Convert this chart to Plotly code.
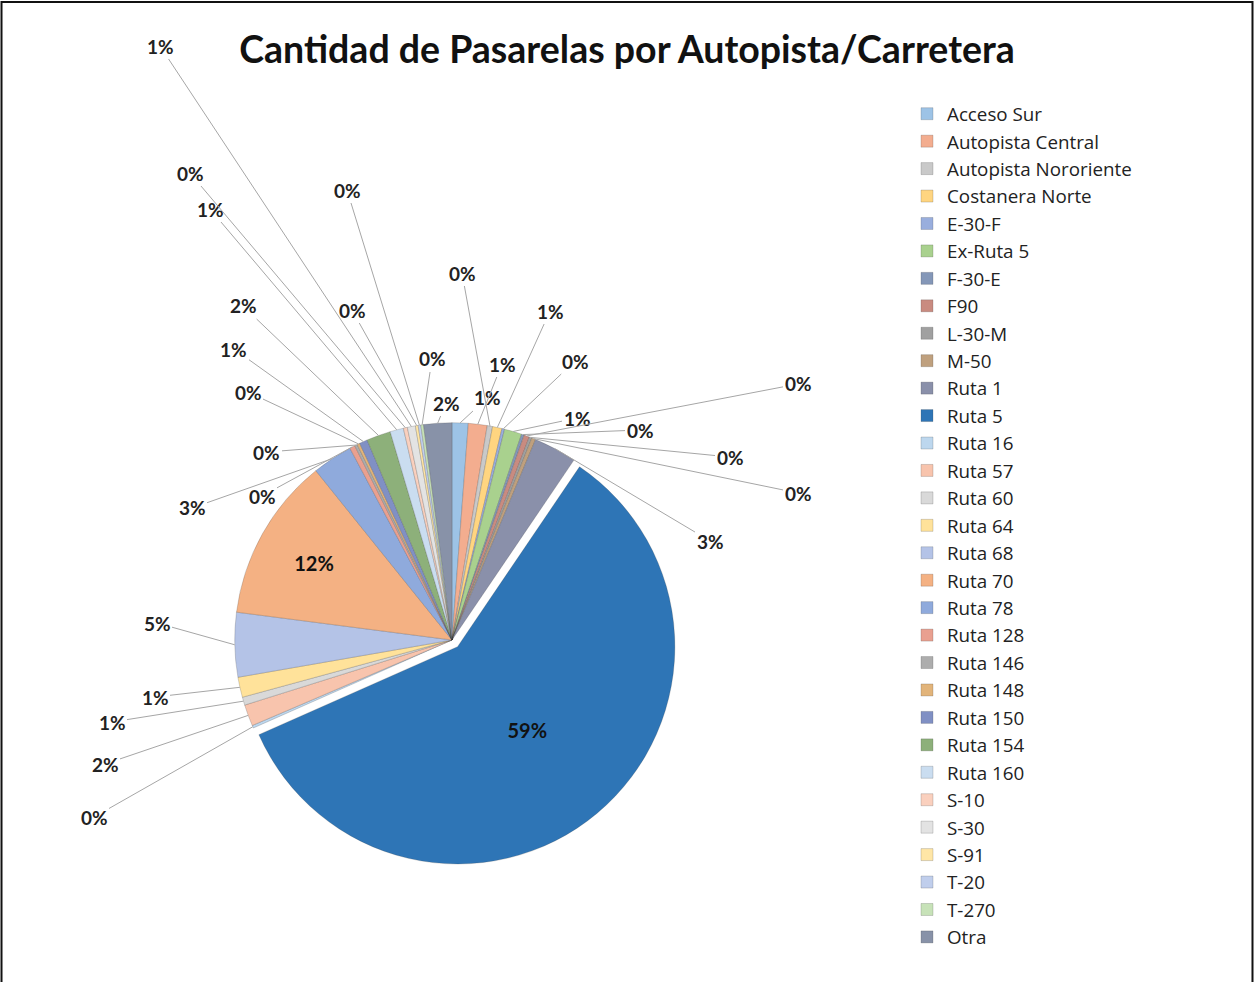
import math
import plotly.graph_objects as go

categories = ["Acceso Sur", "Autopista Central", "Autopista Nororiente", "Costanera Norte",
              "E-30-F", "Ex-Ruta 5", "F-30-E", "F90", "L-30-M", "M-50", "Ruta 1", "Ruta 5",
              "Ruta 16", "Ruta 57", "Ruta 60", "Ruta 64", "Ruta 68", "Ruta 70", "Ruta 78",
              "Ruta 128", "Ruta 146", "Ruta 148", "Ruta 150", "Ruta 154", "Ruta 160",
              "S-10", "S-30", "S-91", "T-20", "T-270", "Otra"]

values = [1.2, 1.4, 0.4, 0.7, 0.2, 1.3, 0.2, 0.4, 0.2, 0.3, 3.2, 59.0,
          0.2, 1.6, 0.6, 1.5, 4.8, 12.2, 3.0,
          0.4, 0.2, 0.2, 0.6, 1.8, 1.0,
          0.3, 0.6, 0.2, 0.2, 0.2, 2.1]

colors = ["#9DC3E6", "#F3AD8F", "#C9C9C9", "#FFD580", "#99AEDD", "#A9D18E", "#8497B8",
          "#C98B80", "#A0A0A0", "#BFA07E", "#8A90AA", "#2E75B6",
          "#BDD7EE", "#F8C4AD", "#D9D9D9", "#FFE29A", "#B4C3E7", "#F4B183", "#8FAADC",
          "#E9A090", "#ADADAD", "#E2B47A", "#8090C4", "#8DB07A", "#CADDF0",
          "#FAD0BE", "#E3E3E3", "#FFE6A6", "#C0CEEC", "#C7E2B8", "#8892A8"]

title_text = "Cantidad de Pasarelas por Autopista/Carretera"

# slices whose percentage sits inside the pie
inside_labels = ["Ruta 5", "Ruta 70"]

# layout: where each outside percentage label sits (pixels from top-left), by category
label_pos = {
    "Acceso Sur": (487, 398), "Autopista Central": (502, 364), "Autopista Nororiente": (462, 273),
    "Costanera Norte": (550, 311), "E-30-F": (575, 361), "Ex-Ruta 5": (577, 418),
    "F-30-E": (640, 430), "F90": (798, 384), "L-30-M": (730, 457), "M-50": (798, 493),
    "Ruta 1": (710, 541),
    "Ruta 16": (94, 817), "Ruta 57": (105, 764), "Ruta 60": (112, 722), "Ruta 64": (155, 697),
    "Ruta 68": (157, 623), "Ruta 78": (192, 508), "Ruta 128": (262, 496), "Ruta 146": (267, 452),
    "Ruta 148": (248, 392), "Ruta 150": (234, 349), "Ruta 154": (243, 306), "Ruta 160": (210, 209),
    "S-10": (190, 173), "S-30": (160, 46), "S-91": (352, 310), "T-20": (347, 190),
    "T-270": (432, 359), "Otra": (446, 403),
}

W, H = 1254, 982
cx, cy, half = 452, 640, 226   # pie domain centre and half-size (pixels)
PULL = 0.04
radius = 2 * half / (2 + 2 * PULL)

FONT = "Lato, Open Sans, sans-serif"

pull = [PULL if c == "Ruta 5" else 0 for c in categories]
templates = ["%{percent:.0%}" if c in inside_labels else "" for c in categories]

fig = go.Figure(go.Pie(
    labels=categories,
    values=values,
    sort=False,
    direction="clockwise",
    rotation=0,
    pull=pull,
    marker=dict(colors=colors, line=dict(color="rgba(60,60,60,0.35)", width=0.6)),
    texttemplate=templates,
    textposition="inside",
    insidetextorientation="horizontal",
    textfont=dict(family=FONT, size=20, color="#111111", weight="bold"),
    domain=dict(x=[(cx - half) / W, (cx + half) / W],
                y=[(H - cy - half) / H, (H - cy + half) / H]),
    hoverinfo="label+percent",
))

# outside percentage labels with grey leader lines to the slice edges
total = sum(values)
annotations = []
cum = 0.0
for cat, v in zip(categories, values):
    mid = (cum + v / 2) / total * 2 * math.pi
    cum += v
    if cat in inside_labels:
        continue
    px = cx + radius * math.sin(mid)
    py = cy - radius * math.cos(mid)
    lx, ly = label_pos[cat]
    annotations.append(dict(
        xref="paper", yref="paper", x=px / W, y=1 - py / H,
        axref="pixel", ayref="pixel", ax=lx - px, ay=ly - py,
        text="%d%%" % round(v / total * 100),
        showarrow=True, arrowhead=0, arrowwidth=1, arrowcolor="#A6A6A6",
        standoff=0, startstandoff=0, borderpad=1,
        font=dict(family=FONT, size=19, color="#222222", weight="bold"),
    ))

fig.update_layout(
    width=W, height=H,
    margin=dict(l=0, r=0, t=0, b=0),
    paper_bgcolor="white",
    plot_bgcolor="white",
    title=dict(text=title_text, x=627 / W, xanchor="center", y=1 - 50 / H, yanchor="middle",
               font=dict(family=FONT, size=37.5, color="#111111", weight="bold")),
    legend=dict(x=907 / W, xanchor="left", y=1 - 95 / H, yanchor="top",
                font=dict(family="Open Sans, Lato, sans-serif", size=18.8, color="#222222"),
                itemwidth=30, bgcolor="rgba(0,0,0,0)"),
    annotations=annotations,
    shapes=[dict(type="rect", xref="paper", yref="paper", x0=0.0012, x1=0.9988, y0=-0.01, y1=0.998,
                 line=dict(color="#111111", width=2), fillcolor="rgba(0,0,0,0)")],
)

fig.write_html("out.html", config={"displayModeBar": False},
               post_script="document.body.style.margin='0px';")
